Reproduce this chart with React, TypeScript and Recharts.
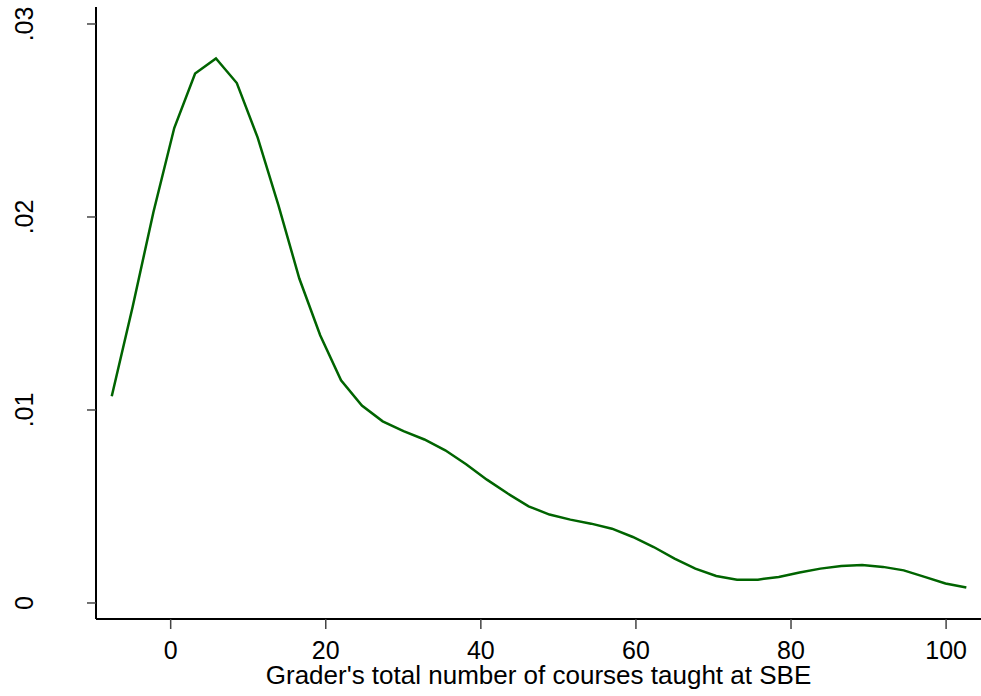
import { Line, LineChart, XAxis, YAxis } from "recharts";

// kernel density of grader's total courses taught (Stata-style plot)
const courses = [
  -7.6, -4.91, -2.22, 0.46, 3.15, 5.84, 8.53, 11.22, 13.9, 16.59, 19.28, 21.97,
  24.66, 27.34, 30.03, 32.72, 35.41, 38.1, 40.78, 43.47, 46.16, 48.85, 51.54,
  54.22, 56.91, 59.6, 62.29, 64.98, 67.66, 70.35, 73.04, 75.73, 78.42, 81.1,
  83.79, 86.48, 89.17, 91.86, 94.54, 97.23, 99.92, 102.61,
];

const density = [
  0.01071, 0.01534, 0.02026, 0.02461, 0.02743, 0.02821, 0.02694, 0.02411,
  0.0206, 0.01681, 0.01387, 0.01154, 0.01023, 0.00941, 0.0089, 0.00847,
  0.00791, 0.00719, 0.00639, 0.00567, 0.00501, 0.00458, 0.00432, 0.00411,
  0.00385, 0.00342, 0.0029, 0.0023, 0.00178, 0.0014, 0.00121, 0.00121,
  0.00135, 0.00158, 0.00178, 0.00192, 0.00197, 0.00187, 0.00169, 0.00135,
  0.00101, 0.0008,
];

const xTicks = [0, 20, 40, 60, 80, 100];
const yTicks = [0, 0.01, 0.02, 0.03];

const data = courses.map((x, i) => ({ x, d: density[i] }));

const FONT = "'Liberation Sans', Arial, sans-serif";

function YTick(props: any) {
  const { y, payload } = props;
  const label = payload.value === 0 ? "0" : String(payload.value).replace("0.", ".");
  return (
    <text
      x={33}
      y={y}
      transform={`rotate(-90, 33, ${y})`}
      textAnchor="middle"
      fontSize={25}
      fontFamily={FONT}
      fill="#000"
    >
      {label}
    </text>
  );
}

export default function App() {
  return (
    <div style={{ position: "absolute", left: 0, top: 0, background: "#fff" }}>
      <LineChart
        width={981}
        height={696}
        data={data}
        margin={{ top: 7, right: 0, left: 0, bottom: 0 }}
      >
        <XAxis
          xAxisId="top"
          orientation="top"
          dataKey="x"
          type="number"
          domain={[-9.63, 104.5]}
          height={0}
          tick={false}
          tickLine={false}
          axisLine={{ stroke: "#000", strokeWidth: 2 }}
        />
        <XAxis
          dataKey="x"
          type="number"
          domain={[-9.63, 104.5]}
          ticks={xTicks}
          height={77}
          tickSize={10}
          tickMargin={12}
          tickLine={{ stroke: "#444", strokeWidth: 1.5 }}
          axisLine={{ stroke: "#000", strokeWidth: 2 }}
          tick={{ fontSize: 25, fill: "#000", fontFamily: FONT }}
          label={{
            value: "Grader's total number of courses taught at SBE",
            position: "insideBottom",
            offset: 12,
            style: { fontSize: 26, fill: "#000", fontFamily: FONT },
          }}
        />
        <YAxis
          type="number"
          domain={[-0.00083, 0.03088]}
          ticks={yTicks}
          width={96}
          tickSize={9}
          tickLine={{ stroke: "#444", strokeWidth: 1.5 }}
          axisLine={{ stroke: "#000", strokeWidth: 2 }}
          tick={<YTick />}
        />
        <Line
          type="linear"
          dataKey="d"
          stroke="#006400"
          strokeWidth={2.5}
          dot={false}
          isAnimationActive={false}
        />
      </LineChart>
    </div>
  );
}
